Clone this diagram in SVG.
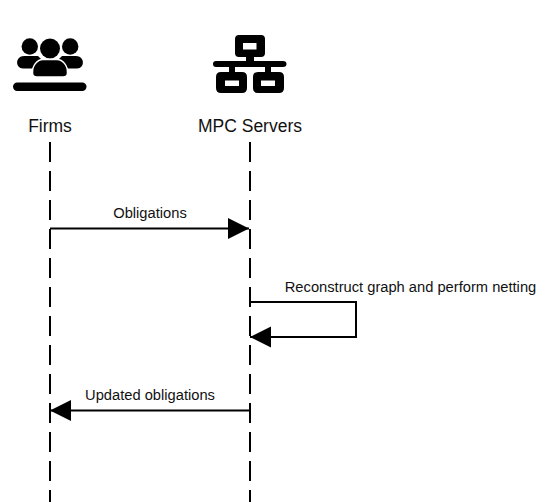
<svg xmlns="http://www.w3.org/2000/svg" width="549" height="502" viewBox="0 0 549 502">
<style>
text{font-family:"Liberation Sans",Arial,sans-serif;fill:#111;text-anchor:middle}
.n{font-size:17.500px}
.m{font-size:14.700px}
.life{stroke:#000;stroke-width:2;stroke-dasharray:20 9;fill:none}
.c{stroke:#000;stroke-width:2;fill:none}
.ico{fill:#000}
</style>
<defs>
<marker id="a" markerUnits="userSpaceOnUse" markerWidth="22" markerHeight="22" refX="21" refY="11" orient="auto"><path d="M0 0.500L21 11L0 21.500Z" fill="#000"/></marker>
</defs>
<rect width="549" height="502" fill="#fff"/>
<g id="firms">
<circle class="ico" cx="29.800" cy="46.500" r="8.200"/><circle class="ico" cx="70.200" cy="46.500" r="8.200"/>
<path class="ico" d="M24 56H38L42 60L38 68.500H23C15 68.500 15 56 24 56Z"/>
<path class="ico" d="M76 56H62L58 60L62 68.500H77C85 68.500 85 56 76 56Z"/>
<circle cx="50" cy="48.500" r="10.600" fill="#fff"/><circle class="ico" cx="50" cy="48.500" r="10"/>
<path class="ico" stroke="#fff" stroke-width="1.500" d="M43 59.500H57C63 59.500 68 66 67.500 73Q67.500 77 63 77H37Q32.500 77 32.500 73C32 66 37 59.500 43 59.500Z"/>
<rect class="ico" x="13" y="82.500" width="73.500" height="8.500" rx="4.200"/>
<text class="n" x="50" y="132">Firms</text>
</g>
<g id="mpc">
<path class="ico" fill-rule="evenodd" d="M239 35H261Q265 35 265 39V53Q265 57 261 57H254V61H283Q286.500 61 286.500 64Q286.500 67 283 67H271V72H279Q284 72 284 77V88Q284 93 279 93H258Q253 93 253 88V77Q253 72 258 72H265V67H235V72H242Q247 72 247 77V88Q247 93 242 93H221Q216 93 216 88V77Q216 72 221 72H229V67H216Q213 67 213 64Q213 61 216 61H246V57H239Q235 57 235 53V39Q235 35 239 35ZM243 43V49.500H256.500V43ZM225 80.500V86H239V80.500ZM261 80.500V86H275V80.500Z"/>
<text class="n" x="250" y="132">MPC Servers</text>
</g>
<g id="connectors">
<path class="life" d="M50 142V502"/>
<path class="life" d="M250 142V502"/>
<path class="c" marker-end="url(#a)" d="M50 228.500H249"/>
<path class="c" marker-end="url(#a)" d="M250 302H356V337H250"/>
<path class="c" marker-end="url(#a)" d="M250 410.500H50"/>
</g>
<g id="labels">
<text class="m" x="150" y="218">Obligations</text>
<text class="m" x="410.500" y="292">Reconstruct graph and perform netting</text>
<text class="m" x="150" y="400">Updated obligations</text>
</g>
</svg>
